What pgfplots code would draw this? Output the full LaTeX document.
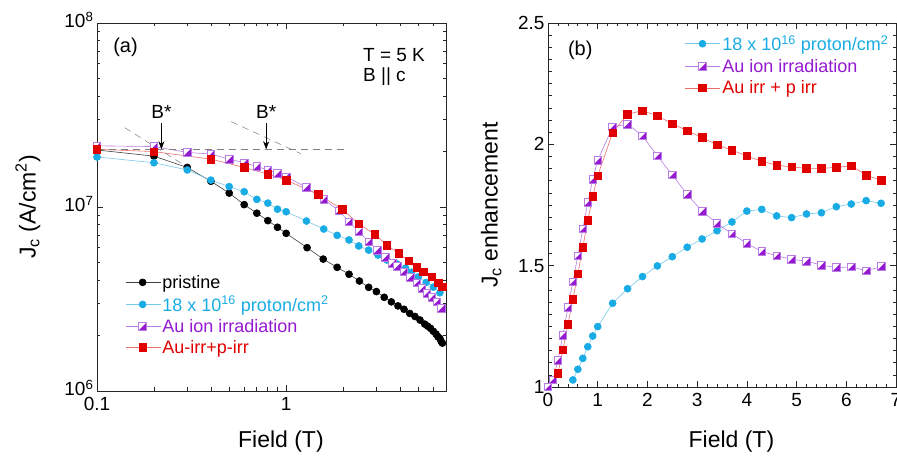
\documentclass[border=0pt]{standalone}
\usepackage{pgfplots}
\pgfplotsset{compat=1.18}
\usepackage{fontspec}
\setmainfont{Liberation Sans}
\usetikzlibrary{arrows.meta}

\definecolor{pcyan}{RGB}{25,172,228}
\definecolor{pcyanline}{RGB}{120,200,235}
\definecolor{aufill}{RGB}{150,25,210}
\definecolor{auedge}{RGB}{185,125,228}
\definecolor{pred}{RGB}{225,0,0}
\definecolor{predline}{RGB}{235,110,110}

\pgfdeclareplotmark{halfsq}{%
  \pgfpathrectangle{\pgfqpoint{-\pgfplotmarksize}{-\pgfplotmarksize}}{\pgfqpoint{2\pgfplotmarksize}{2\pgfplotmarksize}}%
  \pgfsetfillcolor{white}\pgfusepath{fill}%
  \pgfpathmoveto{\pgfqpoint{-\pgfplotmarksize}{-\pgfplotmarksize}}%
  \pgfpathlineto{\pgfqpoint{\pgfplotmarksize}{-\pgfplotmarksize}}%
  \pgfpathlineto{\pgfqpoint{\pgfplotmarksize}{\pgfplotmarksize}}%
  \pgfpathclose
  \pgfsetfillcolor{aufill}\pgfusepath{fill}%
  \pgfpathrectangle{\pgfqpoint{-\pgfplotmarksize}{-\pgfplotmarksize}}{\pgfqpoint{2\pgfplotmarksize}{2\pgfplotmarksize}}%
  \pgfusepath{stroke}%
}

\pgfplotsset{
  myax/.style={
    scale only axis,
    axis line style={line width=0.8pt, black!85},
    tick style={black!85, line width=0.7pt},
    major tick length=6pt, minor tick length=3.5pt,
    tick align=inside, xtick pos=both, ytick pos=both,
    tick label style={font=\fontsize{19}{22}\selectfont},
    xticklabel style={yshift=-3pt},
    label style={font=\fontsize{23}{27}\selectfont},
    legend cell align=left,
    legend image code/.code={\draw[mark repeat=2,mark phase=2,##1] plot coordinates {(0pt,0pt) (17pt,0pt) (35pt,0pt)};},
    /pgf/number format/assume math mode=true,
  },
  blk/.style={color=black!75, line width=0.6pt, mark=*, mark size=3.5pt, mark options={fill=black, draw=black}},
  cyn/.style={color=pcyanline, line width=0.6pt, mark=*, mark size=3.5pt, mark options={fill=pcyan, draw=pcyan}},
  aui/.style={color=auedge, line width=0.6pt, mark=halfsq, mark size=3.8pt, mark options={draw=auedge, line width=0.7pt}},
  aup/.style={color=predline, line width=0.6pt, mark=square*, mark size=3.8pt, mark options={fill=pred, draw=pred}},
}

\begin{document}
\begin{tikzpicture}
\begin{axis}[myax,
  at={(97pt,-391pt)}, anchor=south west,
  width=349pt, height=368pt,
  xmode=log, ymode=log,
  xmin=0.1, xmax=7, ymin=1e6, ymax=1e8,
  xtick={0.1,1}, xticklabels={0.1,1},
  minor xtick={0.2,0.3,0.4,0.5,0.6,0.7,0.8,0.9,2,3,4,5,6,7},
  ytick={1e6,1e7,1e8},
  yticklabels={10\textsuperscript{6},10\textsuperscript{7},10\textsuperscript{8}},
  yticklabel style={yshift=3pt},
  minor ytick={2e6,3e6,4e6,5e6,6e6,7e6,8e6,9e6,2e7,3e7,4e7,5e7,6e7,7e7,8e7,9e7},
  xlabel={Field (T)},
  xlabel style={at={(axis description cs:0.527,0)}, anchor=center, yshift=-51pt},
  ylabel={J\textsubscript{c} (A/cm\textsuperscript{2})},
  ylabel style={at={(axis description cs:-0.198,0.5)}, anchor=center},
  legend style={at={(0.072,0.325)}, anchor=north west, draw=none, fill=none,
    font=\fontsize{18}{20}\selectfont, nodes={inner sep=1.5pt}, row sep=3.5pt},
]
\addplot[blk] coordinates {
(0.1,2.04e7)(0.2,1.89e7)(0.3,1.64e7)(0.4,1.38e7)(0.5,1.19e7)(0.6,1.03e7)
(0.7,9.25e6)(0.8,8.43e6)(0.9,7.76e6)(1.0,7.19e6)(1.29,6.01e6)(1.57,5.21e6)
(1.86,4.70e6)(2.15,4.31e6)(2.44,3.96e6)(2.73,3.66e6)(3.0,3.47e6)(3.3,3.23e6)
(3.6,3.05e6)(3.9,2.90e6)(4.2,2.78e6)(4.5,2.64e6)(4.8,2.54e6)(5.1,2.43e6)
(5.4,2.31e6)(5.6,2.25e6)(5.8,2.19e6)(6.0,2.11e6)(6.2,2.04e6)(6.35,1.97e6)
(6.5,1.93e6)(6.6,1.86e6)(6.7,1.82e6)};
\addlegendentry{pristine}
\addplot[cyn] coordinates {
(0.1,1.87e7)(0.2,1.74e7)(0.3,1.59e7)(0.4,1.40e7)(0.5,1.29e7)(0.6,1.21e7)
(0.7,1.10e7)(0.8,1.05e7)(0.9,9.73e6)(1.0,9.42e6)(1.28,8.39e6)(1.58,7.59e6)
(1.86,7.01e6)(2.15,6.62e6)(2.42,6.14e6)(2.73,5.83e6)(3.06,5.48e6)(3.41,5.15e6)
(3.86,4.90e6)(4.28,4.65e6)(4.6,4.42e6)(5.0,4.17e6)(5.5,3.89e6)(6.0,3.67e6)
(6.5,3.42e6)};
\addlegendentry{\textcolor{pcyan}{18 x 10\textsuperscript{16} proton/cm\textsuperscript{2}}}
\addplot[aui] coordinates {
(0.1,2.15e7)(0.2,2.13e7)(0.3,1.98e7)(0.4,1.94e7)(0.5,1.82e7)(0.6,1.74e7)
(0.7,1.66e7)(0.8,1.59e7)(0.9,1.52e7)(1.0,1.46e7)(1.28,1.28e7)(1.58,1.10e7)
(1.9,9.55e6)(2.15,8.32e6)(2.42,7.35e6)(2.73,6.47e6)(3.03,5.83e6)(3.35,5.33e6)
(3.63,4.94e6)(3.86,4.74e6)(4.18,4.45e6)(4.53,4.15e6)(4.91,3.88e6)(5.22,3.61e6)
(5.55,3.40e6)(5.89,3.23e6)(6.25,3.05e6)(6.6,2.81e6)};
\addlegendentry{\textcolor{aufill}{Au ion irradiation}}
\addplot[aup] coordinates {
(0.1,2.06e7)(0.2,2.0e7)(0.4,1.82e7)(0.6,1.64e7)(0.8,1.51e7)(1.0,1.40e7)
(1.48,1.17e7)(1.98,9.7e6)(2.42,8.1e6)(2.94,7.1e6)(3.41,6.2e6)(3.94,5.6e6)
(4.44,5.1e6)(4.91,4.7e6)(5.32,4.45e6)(5.89,4.18e6)(6.38,3.88e6)(6.7,3.69e6)};
\addlegendentry{\textcolor{pred}{Au-irr+p-irr}}
\addplot[dash pattern=on 7pt off 5pt, black!50, line width=0.5pt, forget plot] coordinates {(0.1,2.06e7)(2.1,2.06e7)};
\addplot[dash pattern=on 7pt off 5pt, black!50, line width=0.5pt, forget plot] coordinates {(0.14,2.70e7)(0.30,1.65e7)};
\addplot[dash pattern=on 7pt off 5pt, black!50, line width=0.5pt, forget plot] coordinates {(0.512,2.91e7)(1.194,1.95e7)};
\draw[-{Stealth[length=8pt,width=6pt]}, line width=0.6pt] (axis cs:0.219,2.86e7) -- (axis cs:0.219,2.06e7);
\draw[-{Stealth[length=8pt,width=6pt]}, line width=0.6pt] (axis cs:0.784,2.86e7) -- (axis cs:0.784,2.06e7);
\node[font=\fontsize{19}{22}\selectfont] at (axis cs:0.219,3.3e7) {B*};
\node[font=\fontsize{19}{22}\selectfont] at (axis cs:0.784,3.3e7) {B*};
\node[font=\fontsize{20}{24}\selectfont, anchor=west, inner sep=0pt] at (rel axis cs:0.046,0.935) {(a)};
\node[font=\fontsize{19}{22}\selectfont, anchor=west, inner sep=0pt] at (rel axis cs:0.762,0.913) {T = 5 K};
\node[font=\fontsize{19}{22}\selectfont, anchor=west, inner sep=0pt] at (rel axis cs:0.762,0.853) {B || c};
\end{axis}

\begin{axis}[myax,
  at={(548pt,-387pt)}, anchor=south west,
  width=348pt, height=364pt,
  xmin=0, xmax=7, ymin=1, ymax=2.5,
  xtick={0,1,2,3,4,5,6,7}, minor x tick num=4,
  ytick={1,1.5,2,2.5}, minor y tick num=9,
  xlabel={Field (T)},
  xlabel style={at={(axis description cs:0.527,0)}, anchor=center, yshift=-55pt},
  ylabel={J\textsubscript{c} enhancement},
  ylabel style={at={(axis description cs:-0.163,0.5)}, anchor=center},
  legend style={at={(0.385,0.976)}, anchor=north west, draw=none, fill=none,
    font=\fontsize{18}{20}\selectfont, nodes={inner sep=1.5pt}, row sep=4pt},
]
\addplot[cyn] coordinates {
(0.5,1.029)(0.6,1.073)(0.7,1.118)(0.8,1.166)(0.9,1.210)(1.0,1.249)(1.3,1.345)
(1.6,1.405)(1.9,1.455)(2.2,1.499)(2.5,1.537)(2.8,1.576)(3.1,1.610)(3.4,1.644)
(3.7,1.680)(4.0,1.725)(4.3,1.732)(4.6,1.705)(4.9,1.698)(5.2,1.713)(5.5,1.718)
(5.8,1.743)(6.1,1.754)(6.4,1.768)(6.7,1.757)};
\addlegendentry{\textcolor{pcyan}{18 x 10\textsuperscript{16} proton/cm\textsuperscript{2}}}
\addplot[aui] coordinates {
(0,1.0)(0.1,1.03)(0.2,1.111)(0.3,1.214)(0.4,1.327)(0.5,1.434)(0.6,1.540)
(0.7,1.651)(0.8,1.760)(0.9,1.856)(1.0,1.934)(1.3,2.072)(1.6,2.083)(1.9,2.035)
(2.2,1.952)(2.5,1.874)(2.8,1.794)(3.1,1.724)(3.4,1.674)(3.7,1.631)(4.0,1.592)
(4.3,1.558)(4.6,1.541)(4.9,1.526)(5.2,1.519)(5.5,1.502)(5.8,1.492)(6.1,1.495)
(6.4,1.479)(6.7,1.496)};
\addlegendentry{\textcolor{aufill}{Au ion irradiation}}
\addplot[aup] coordinates {
(0.2,1.056)(0.3,1.153)(0.4,1.258)(0.5,1.361)(0.6,1.466)(0.7,1.576)(0.8,1.686)
(0.9,1.785)(1.0,1.871)(1.3,2.048)(1.6,2.124)(1.9,2.139)(2.2,2.117)(2.5,2.085)
(2.8,2.056)(3.1,2.028)(3.4,1.998)(3.7,1.976)(4.0,1.952)(4.3,1.930)(4.6,1.914)
(4.9,1.907)(5.2,1.901)(5.5,1.901)(5.8,1.905)(6.1,1.912)(6.4,1.873)(6.7,1.852)};
\addlegendentry{\textcolor{pred}{Au irr + p irr}}
\node[font=\fontsize{20}{24}\selectfont, anchor=west, inner sep=0pt] at (rel axis cs:0.057,0.926) {(b)};
\end{axis}
\pgfresetboundingbox
\path[use as bounding box] (0pt,0pt) rectangle (897pt,-457pt);
\end{tikzpicture}
\end{document}
